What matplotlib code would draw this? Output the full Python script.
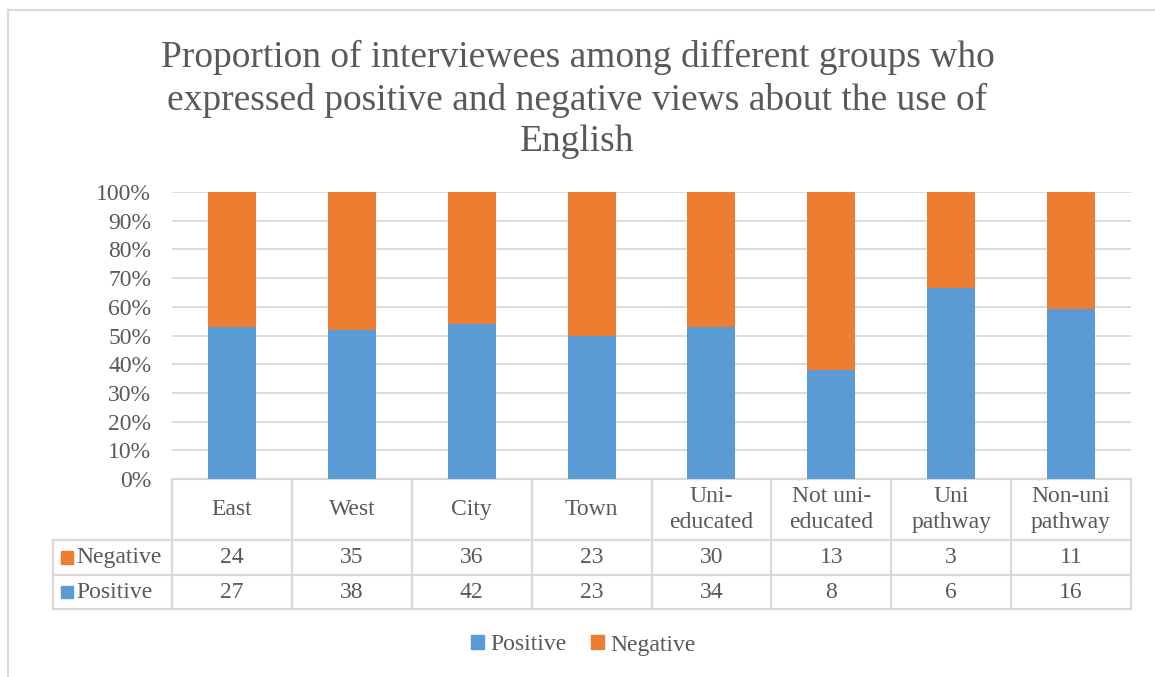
import numpy as np
import matplotlib.pyplot as plt
from matplotlib.patches import Patch, Rectangle
from matplotlib.lines import Line2D

categories = ["East", "West", "City", "Town", "Uni-\neducated",
              "Not uni-\neducated", "Uni\npathway", "Non-uni\npathway"]
negative = [24, 35, 36, 23, 30, 13, 3, 11]
positive = [27, 38, 42, 23, 34, 8, 6, 16]
yticks = [0, 10, 20, 30, 40, 50, 60, 70, 80, 90, 100]

BLUE = "#5B9BD5"
ORANGE = "#ED7D31"
TEXT = "#595959"
GRID = "#D9D9D9"
FS = 17

plt.rcParams["font.family"] = ["Liberation Serif", "DejaVu Serif"]

fig = plt.figure(figsize=(11.55, 6.77), dpi=100)
ax = fig.add_axes([172 / 1155, 1 - 479 / 677, 959 / 1155, 287 / 677])

pos = np.array(positive, dtype=float)
neg = np.array(negative, dtype=float)
pos_pct = pos / (pos + neg) * 100
neg_pct = neg / (pos + neg) * 100
x = np.arange(len(categories))

ax.bar(x, pos_pct, width=0.4, color=BLUE, zorder=3)
ax.bar(x, neg_pct, width=0.4, bottom=pos_pct, color=ORANGE, zorder=3)

ax.set_xlim(-0.5, len(categories) - 0.5)
ax.set_ylim(0, 100)
ax.set_yticks(yticks)
ax.set_yticklabels([f"{t}%" for t in yticks])
ax.tick_params(axis="y", length=0, pad=15, labelsize=FS, labelcolor=TEXT)
ax.set_xticks([])
ax.grid(axis="y", color=GRID, linewidth=1.3, zorder=0)
for s in ax.spines.values():
    s.set_visible(False)

# data table below the plot, in axes coordinates
tr = ax.transAxes
n = len(categories)
y0, y1, y2, y3 = 0.0, -0.2125, -0.3345, -0.453
xl = -0.1241
lw = 1.6
kw = dict(transform=tr, color=GRID, linewidth=lw, clip_on=False)
ax.add_line(Line2D([0, 1], [y0, y0], **kw))
for yy in (y1, y2, y3):
    ax.add_line(Line2D([xl, 1], [yy, yy], **kw))
for i in range(n + 1):
    ax.add_line(Line2D([i / n, i / n], [y0, y3], **kw))
ax.add_line(Line2D([xl, xl], [y1, y3], **kw))

for i, c in enumerate(categories):
    xc = (i + 0.5) / n
    ax.text(xc, (y0 + y1) / 2, c, transform=tr, ha="center", va="center",
            fontsize=FS, color=TEXT, linespacing=1.3)
    ax.text(xc, (y1 + y2) / 2, str(negative[i]), transform=tr, ha="center",
            va="center", fontsize=FS, color=TEXT)
    ax.text(xc, (y2 + y3) / 2, str(positive[i]), transform=tr, ha="center",
            va="center", fontsize=FS, color=TEXT)

for label, col, (ya, yb) in (("Negative", ORANGE, (y1, y2)),
                             ("Positive", BLUE, (y2, y3))):
    ym = (ya + yb) / 2
    ax.add_patch(Rectangle((-0.1158, ym - 0.021), 0.0125, 0.042,
                           transform=tr, color=col, clip_on=False))
    ax.text(-0.0995, ym, label, transform=tr, ha="left", va="center",
            fontsize=FS, color=TEXT)

fig.suptitle("Proportion of interviewees among different groups who\n"
             "expressed positive and negative views about the use of\nEnglish",
             y=1 - 40 / 677, va="top", fontsize=27, color=TEXT, linespacing=1.27)

handles = [Patch(color=BLUE, label="Positive"),
           Patch(color=ORANGE, label="Negative")]
fig.legend(handles=handles, loc="center", bbox_to_anchor=(0.505, 1 - 645 / 677),
           ncol=2, frameon=False, fontsize=FS, labelcolor=TEXT,
           handlelength=0.55, handleheight=0.55, handletextpad=0.3,
           columnspacing=1.0)

# chart frame (only top and left edges visible)
fig.add_artist(Line2D([8 / 1155, 1], [1 - 10 / 677, 1 - 10 / 677],
                      transform=fig.transFigure, color=GRID, linewidth=1.5))
fig.add_artist(Line2D([8 / 1155, 8 / 1155], [0, 1 - 10 / 677],
                      transform=fig.transFigure, color=GRID, linewidth=1.5))

fig.savefig("out.png", dpi=100, facecolor="white")
